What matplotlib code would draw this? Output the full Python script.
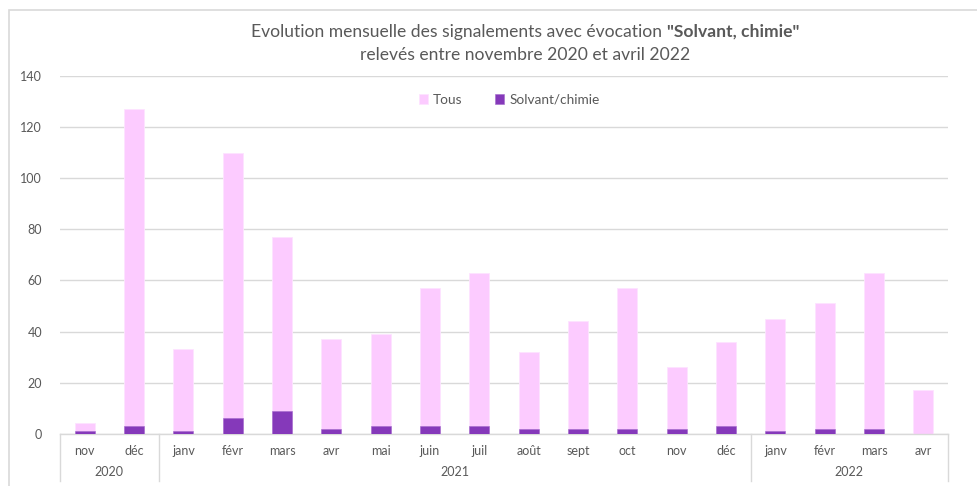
import matplotlib
matplotlib.use("Agg")
import matplotlib.pyplot as plt
import matplotlib.transforms as mtransforms
from matplotlib.patches import Rectangle
from matplotlib.lines import Line2D
import numpy as np

months = ["nov", "déc", "janv", "févr", "mars", "avr", "mai", "juin", "juil",
          "août", "sept", "oct", "nov", "déc", "janv", "févr", "mars", "avr"]
years = ["2020", "2021", "2022"]
year_counts = [2, 12, 4]
tous = [4, 127, 33, 110, 77, 37, 39, 57, 63, 32, 44, 57, 26, 36, 45, 51, 63, 17]
solvant = [1, 3, 1, 6, 9, 2, 3, 3, 3, 2, 2, 2, 2, 3, 1, 2, 2, 0]
yticks = [0, 20, 40, 60, 80, 100, 120, 140]

FONT = ["Lato", "DejaVu Sans"]
plt.rcParams["font.family"] = FONT
TXT = "#595959"
PINK = "#FCCBFF"
PURPLE = "#8539BA"
GRID = "#D9D9D9"

W, H = 977, 486
fig = plt.figure(figsize=(W / 100, H / 100), dpi=100)
fig.patch.set_facecolor("white")

def fx(px):
    return px / W

def fy(py):
    return 1 - py / H

left, right, top, bottom = 60, 948, 76, 433.7
ax = fig.add_axes([fx(left), fy(bottom), fx(right - left), fy(top) - fy(bottom)])

n = len(months)
x = np.arange(n)
bw = 0.41
ax.bar(x, tous, width=bw, color=PINK, edgecolor="#FDE3FF", linewidth=0.6, zorder=2, label="Tous")
ax.bar(x, solvant, width=bw, color=PURPLE, edgecolor="#A36BCB", linewidth=0.4, zorder=3, label="Solvant/chimie")

ax.set_xlim(-0.5, n - 0.5)
ax.set_ylim(0, 140)
ax.set_yticks(yticks)
ax.set_yticklabels([str(v) for v in yticks])
ax.tick_params(axis="y", length=0, pad=13, labelsize=9, colors=TXT)
ax.set_xticks([])
ax.grid(axis="y", color=GRID, linewidth=1.0, zorder=0)
for s in ["top", "right", "left"]:
    ax.spines[s].set_visible(False)
ax.spines["bottom"].set_color(GRID)
ax.spines["bottom"].set_linewidth(1.0)

blend = mtransforms.blended_transform_factory(ax.transData, fig.transFigure)

# month labels
for i, m in enumerate(months):
    ax.text(i, fy(451), m, transform=blend, ha="center", va="center", fontsize=9, color=TXT)

# year labels and separators
start = 0
bounds = [-0.5]
for yname, cnt in zip(years, year_counts):
    center = start + (cnt - 1) / 2
    ax.text(center, fy(471.5), yname, transform=blend, ha="center", va="center", fontsize=9, color=TXT)
    start += cnt
    bounds.append(start - 0.5)
for b in bounds:
    ax.add_line(Line2D([b, b], [fy(bottom), fy(481)], transform=blend, color=GRID,
                       linewidth=1.0, clip_on=False))

# title
TS = 12.6
t1a = "Evolution mensuelle des signalements avec évocation "
t1b = '"Solvant, chimie"'
r = fig.canvas.get_renderer()
ta = fig.text(0, 0, t1a, fontsize=TS, color=TXT, va="center")
tb = fig.text(0, 0, t1b, fontsize=TS, color=TXT, fontweight="bold", va="center")
wa = ta.get_window_extent(r).width
wb = tb.get_window_extent(r).width
cx = 525
x0 = cx - (wa + wb) / 2
ta.set_position((fx(x0), fy(32)))
tb.set_position((fx(x0 + wa), fy(32)))
fig.text(fx(cx), fy(55.5), "relevés entre novembre 2020 et avril 2022",
         ha="center", va="center", fontsize=TS, color=TXT)

# legend
leg = ax.legend(loc="center", bbox_to_anchor=(fx(509), fy(100)), bbox_transform=fig.transFigure,
                ncol=2, frameon=False, fontsize=9.8, handlelength=0.7, handleheight=0.7,
                columnspacing=2.4, handletextpad=0.35, labelcolor=TXT,
                borderpad=0, borderaxespad=0)

# outer border
fig.add_artist(Rectangle((fx(9), fy(H + 5)), 1.2, fy(10) - fy(H + 5), transform=fig.transFigure,
                         fill=False, edgecolor=GRID, linewidth=1.2))

fig.savefig("out.png", dpi=100)
